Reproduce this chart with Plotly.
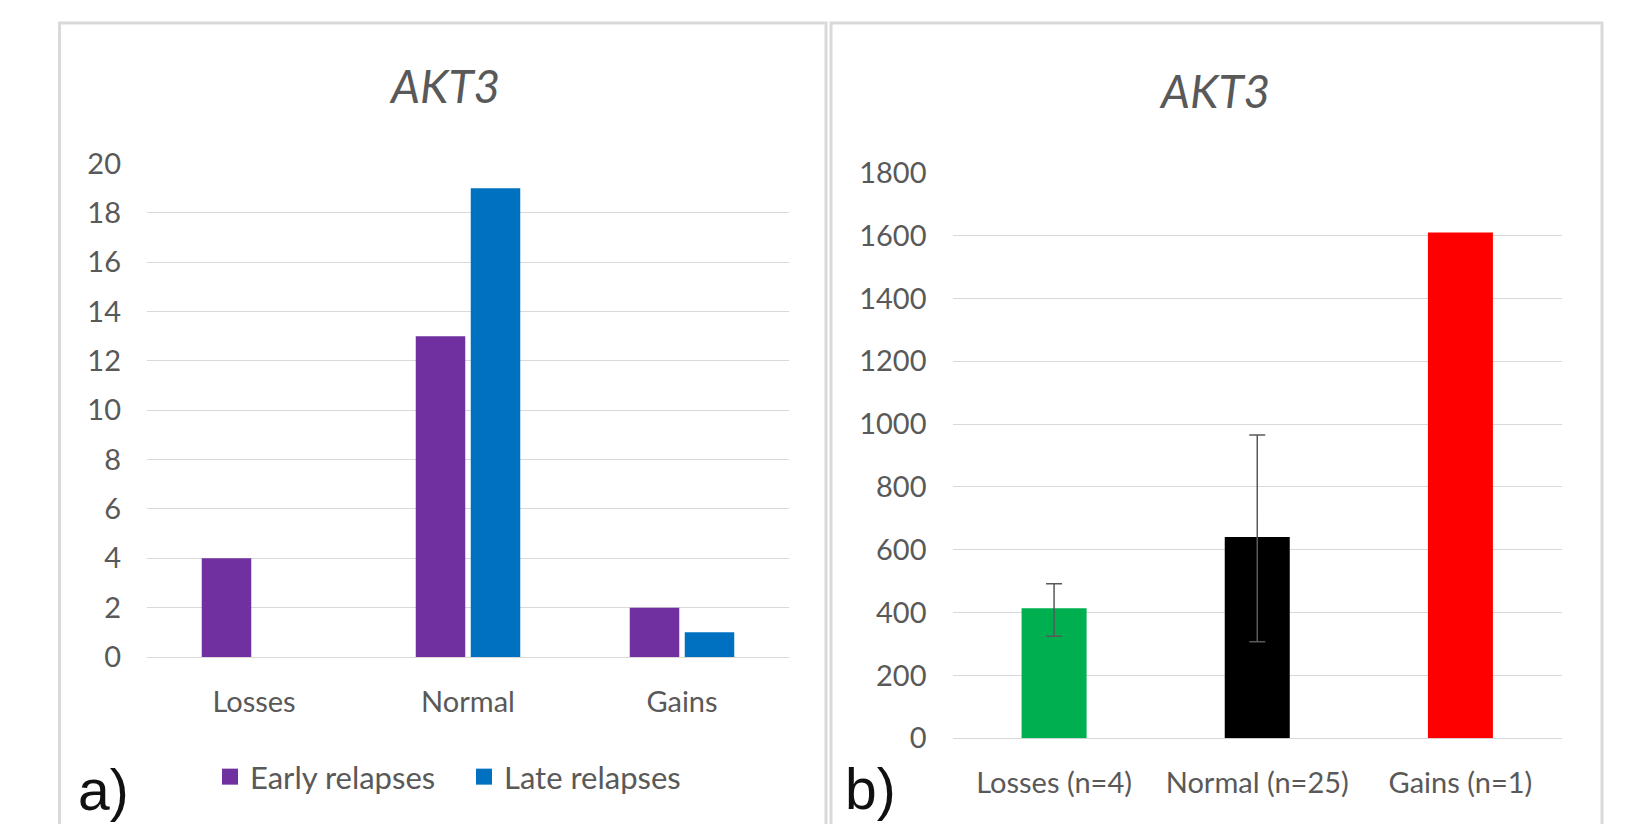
import plotly.graph_objects as go

W, H = 1635, 824

# ---------------- data ----------------
categories_a = ["Losses", "Normal", "Gains"]
early_relapses = [4, 13, 2]
late_relapses = [0, 19, 1]
series_names = ["Early relapses", "Late relapses"]
series_colors = ["#7030A0", "#0070C0"]

categories_b = ["Losses (n=4)", "Normal (n=25)", "Gains (n=1)"]
expression = [414, 641, 1610]
err_plus = [78, 324, None]
err_minus = [89, 334, None]
bar_colors_b = ["#00B050", "#000000", "#FF0000"]

title_text = "AKT3"
panel_labels = ["a)", "b)"]
y_ticks_a = list(range(0, 21, 2))
y_ticks_b = list(range(0, 1801, 200))

# ---------------- helpers ----------------
# page body has an 8px margin: shift everything so it lands where the reference has it
OX, OY = 8, 8


def px(x):
    return (x - OX) / W


def py(y):
    return 1 - (y - OY) / H


def nan_missing(vals):
    return [v if v is not None else "NaN" for v in vals]


TXT = "#595959"
GRID = "#d9d9d9"
FONT = "Lato"
tickfont = dict(family=FONT, size=29, color=TXT)

fig = go.Figure()

# panel a bars
for name, vals, col in zip(series_names, [early_relapses, late_relapses], series_colors):
    fig.add_trace(go.Bar(x=categories_a, y=vals, name=name, marker=dict(color=col, line=dict(width=0)),
                         xaxis="x", yaxis="y", showlegend=False, legendgroup=name))
    # legend proxy (no data)
    fig.add_trace(go.Scatter(x=[None], y=[None], mode="markers", name=name, legendgroup=name,
                             marker=dict(symbol="square", size=16, color=col),
                             xaxis="x", yaxis="y", showlegend=True))

# panel b bars
fig.add_trace(go.Bar(x=categories_b, y=expression, marker=dict(color=bar_colors_b, line=dict(width=0)),
                     xaxis="x2", yaxis="y2", showlegend=False, width=0.32, offset=-0.16,
                     error_y=dict(type="data", symmetric=False, array=nan_missing(err_plus),
                                  arrayminus=nan_missing(err_minus),
                                  color="#595959", thickness=1.5, width=8)))

shapes = []
# panel borders
shapes.append(dict(type="rect", xref="paper", yref="paper", x0=px(59.5), x1=px(826), y0=py(840), y1=py(23),
                   line=dict(color=GRID, width=3), layer="below"))
shapes.append(dict(type="rect", xref="paper", yref="paper", x0=px(831), x1=px(1602), y0=py(840), y1=py(23),
                   line=dict(color=GRID, width=3), layer="below"))

annotations = [
    dict(text="<i>" + title_text + "</i>", xref="paper", yref="paper", x=px(445), y=py(85.5),
         xanchor="center", yanchor="middle", showarrow=False, font=dict(family=FONT, size=46, color=TXT)),
    dict(text="<i>" + title_text + "</i>", xref="paper", yref="paper", x=px(1214), y=py(90.5),
         xanchor="center", yanchor="middle", showarrow=False, font=dict(family=FONT, size=46, color=TXT)),
    dict(text=panel_labels[0], xref="paper", yref="paper", x=px(76), y=py(790),
         xanchor="left", yanchor="middle", showarrow=False,
         font=dict(family="Liberation Sans, Arial", size=57, color="#111111")),
    dict(text=panel_labels[1], xref="paper", yref="paper", x=px(843), y=py(789),
         xanchor="left", yanchor="middle", showarrow=False,
         font=dict(family="Liberation Sans, Arial", size=57, color="#111111")),
]

fig.update_layout(
    width=W, height=H,
    margin=dict(l=0, r=0, t=0, b=0, autoexpand=False),
    paper_bgcolor="white", plot_bgcolor="white",
    barmode="group", bargap=0.486, bargroupgap=0.1,
    shapes=shapes, annotations=annotations,
    hovermode=False,
    legend=dict(orientation="h", x=px(210), y=py(777), xanchor="left", yanchor="middle",
                font=dict(family=FONT, size=31, color=TXT), bgcolor="rgba(0,0,0,0)",
                entrywidth=209, entrywidthmode="pixels", itemclick=False),
    xaxis=dict(domain=[px(147), px(789)], anchor="y", showgrid=False, showline=False, zeroline=False,
               tickfont=tickfont, ticks="", ticklabelstandoff=25, automargin=False,
               categoryorder="array", categoryarray=categories_a),
    yaxis=dict(domain=[py(657), py(163.5)], anchor="x", range=[0, 20], tickvals=y_ticks_a,
               showgrid=True, gridcolor=GRID, gridwidth=1.3, zeroline=True, zerolinecolor=GRID,
               zerolinewidth=1.3, showline=False, tickfont=tickfont, ticks="", ticklabelstandoff=25,
               automargin=False),
    xaxis2=dict(domain=[px(952.5), px(1562)], anchor="y2", showgrid=False, showline=False, zeroline=False,
                tickfont=tickfont, ticks="", ticklabelstandoff=25, automargin=False),
    yaxis2=dict(domain=[py(738.3), py(172.7)], anchor="x2", range=[0, 1800], tickvals=y_ticks_b,
                showgrid=True, gridcolor=GRID, gridwidth=1.3, zeroline=True, zerolinecolor=GRID,
                zerolinewidth=1.3, showline=False, tickfont=tickfont, ticks="", ticklabelstandoff=25,
                automargin=False),
)

fig.write_html("out.html")
